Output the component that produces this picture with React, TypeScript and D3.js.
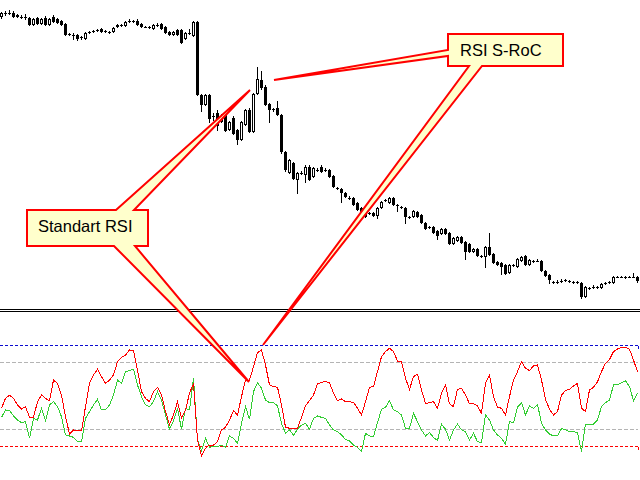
import React from 'react';
import * as d3 from 'd3';

const W = 640;
const H = 480;

// Candle data (price in points)
const openP = [303,307,307,307,305,303,303,302,295,302,296,302,295,303,301,299,296,286,285,285,283,281,288,289,290,291,289,288,288,293,295,294,299,299,299,296,293,293,291,295,296,293,288,285,290,290,281,287,284,298,225,215,225,204,207,198,205,190,202,190,180,195,210,188,226,240,233,216,211,212,205,168,147,157,140,147,145,153,143,150,153,150,150,144,132,131,127,122,122,117,112,110,107,107,104,112,120,117,122,115,113,112,103,103,108,105,97,93,93,89,86,91,87,76,79,83,78,76,68,71,64,63,73,66,58,57,55,47,55,53,59,64,55,59,59,59,49,45,38,38,39,40,39,38,38,37,23,32,33,33,32,37,38,37,43,43,43,43,43,43];
const highP = [308,309,310,309,306,305,306,303,302,303,302,304,302,305,302,300,297,287,287,286,284,288,289,290,291,292,290,289,293,296,296,299,301,300,301,297,294,294,296,297,297,294,289,289,291,291,288,291,299,299,226,226,226,207,210,206,207,199,204,191,199,211,212,227,253,249,235,217,212,219,206,169,161,158,148,149,155,155,153,152,155,152,151,145,133,132,128,124,123,118,113,111,108,108,113,119,121,123,123,116,114,113,104,110,109,106,98,94,94,90,92,92,88,83,84,84,79,77,72,72,65,74,87,67,59,58,56,56,56,62,64,65,61,60,61,60,50,46,39,40,41,41,40,39,39,38,34,33,35,34,37,38,39,44,44,44,44,44,47,44];
const lowP = [301,304,305,302,302,301,300,294,294,295,295,294,294,297,296,294,284,284,280,279,280,280,286,287,288,287,287,286,287,292,293,293,297,297,294,292,292,291,290,293,290,286,284,284,284,276,280,285,283,224,208,214,197,199,189,197,188,189,185,175,179,194,187,187,225,230,214,197,208,204,166,148,146,140,126,145,137,139,142,148,147,148,142,132,130,117,122,120,114,109,106,102,105,103,101,111,118,116,114,108,111,96,101,102,102,96,90,91,86,80,85,85,75,75,78,76,60,67,67,63,62,52,64,56,54,45,45,46,53,52,58,54,54,57,58,48,43,36,36,36,37,38,37,36,36,21,22,30,31,31,31,35,36,36,42,42,41,42,42,37];
const closeP = [307,307,307,303,303,303,302,295,301,296,301,295,301,298,297,295,285,286,285,281,283,287,288,289,290,288,289,288,292,295,295,298,299,299,295,293,293,293,295,295,291,287,285,288,285,277,287,287,298,225,215,225,201,204,194,204,189,198,186,180,198,210,188,226,241,232,215,210,211,205,168,150,160,141,147,147,153,140,152,150,148,150,143,133,132,127,123,122,115,110,107,103,107,104,112,118,120,122,115,115,113,103,103,109,103,97,91,93,87,84,91,86,76,82,83,77,68,68,71,64,64,73,65,57,55,53,46,55,55,61,63,55,60,59,59,49,44,40,38,38,39,40,39,38,38,23,33,32,33,33,36,37,38,43,43,43,43,43,43,39];

// Oscillator series (0..100)
const rsiSRoC = [42.7,48.6,50.4,48.6,44.7,42.3,43.7,37.3,37.3,46.6,50.6,48.6,47.2,59.5,57.5,50.6,37.7,27.4,29.8,29.2,29.2,43.7,57.5,62.5,65.9,61.5,57.5,59.5,62.5,70.4,73.0,74.4,77.4,77.0,65.5,52.6,48.6,46.6,52.6,55.2,50.6,40.7,33.1,38.7,46.6,36.7,41.7,51.6,57.5,23.8,14.3,18.9,20.8,20.8,22.8,29.8,31.4,35.7,41.3,38.7,49.6,59.5,59.5,67.5,75.8,77.4,68.5,56.6,55.6,55.2,44.7,31.4,30.8,30.8,30.8,37.3,44.1,47.2,50.6,57.2,
58.2,58.5,57.9,51.6,47.2,48.2,46.6,46.6,46.2,42.7,38.7,46.6,55.2,55.6,64.5,73.4,76.4,78.4,76.4,70.8,70.4,60.5,54.0,61.5,62.9,53.6,45.6,46.0,46.6,42.7,51.6,56.6,45.3,43.7,54.0,54.6,50.6,45.3,45.3,44.1,39.7,57.5,62.5,49.6,43.3,42.7,38.7,49.6,59.5,64.5,70.4,66.5,65.1,67.9,68.5,59.5,48.0,42.1,38.7,40.7,50.6,53.2,54.0,56.0,57.5,42.7,40.7,53.6,55.2,58.5,64.5,69.5,71.8,76.4,78.0,78.8,79.0,77.8,71.4,64.5];
const rsiStandard = [37.3,41.7,41.3,38.1,35.7,34.1,34.7,24.8,36.7,35.7,42.7,35.3,44.7,46.6,43.7,37.7,26.8,26.2,25.4,22.8,22.8,36.7,40.7,44.7,48.0,41.7,41.7,44.7,50.6,59.5,57.5,64.5,65.1,65.9,56.6,49.6,44.7,43.7,46.6,52.6,47.6,38.7,30.2,35.3,42.7,30.2,42.7,41.7,60.5,23.8,17.5,24.8,19.5,19.9,19.9,20.8,19.5,26.2,24.8,21.8,33.7,43.7,36.1,52.6,57.9,54.6,47.6,46.0,46.0,44.1,33.7,27.8,29.8,26.6,30.2,32.7,33.7,30.2,36.7,38.1,
37.3,36.7,32.7,29.8,28.8,26.8,24.2,23.2,20.8,19.5,16.9,27.8,26.2,25.8,34.1,42.1,43.3,47.2,41.7,40.7,38.7,30.8,30.8,39.7,34.7,29.8,26.2,28.2,25.4,23.4,33.3,30.2,23.8,29.8,33.3,29.8,28.8,23.8,27.8,22.8,22.2,38.7,35.7,29.8,26.8,24.8,21.2,34.7,34.1,43.3,46.0,38.7,44.1,42.7,45.1,33.7,29.8,27.4,26.2,26.2,30.6,29.8,28.8,28.8,28.2,16.9,33.3,33.1,33.3,35.7,43.7,46.0,47.6,56.6,56.6,57.9,59.1,55.6,47.2,51.6];

const levelValues = [80, 70, 30, 20];
const levelColors = ['#0b0bd0', '#b4b4b4', '#b4b4b4', '#ff0000'];
const levelDash = ['3,2', '4,2', '4,2', '3,2'];

const calloutLabels = ['RSI S-RoC', 'Standart RSI'];

export default function App() {
  const n = openP.length;
  const x = d3.scaleLinear().domain([0, n - 1]).range([1.5, 637.5]);
  const py = d3.scaleLinear().domain([0, 320]).range([320, 0]);
  const ry = d3.scaleLinear().domain([0, 100]).range([480, 312]);

  const line = d3
    .line<number>()
    .x((_, i) => x(i))
    .y((d) => ry(d));

  const candles = openP.map((o, i) => {
    const c = closeP[i];
    const xc = x(i);
    const yo = py(o);
    const yc = py(c);
    const yh = py(highP[i]);
    const yl = py(lowP[i]);
    const parts: React.ReactNode[] = [
      <line key="w" x1={xc} x2={xc} y1={yh} y2={yl} stroke="#000" strokeWidth={1} />,
    ];
    if (o === c || (c > o && c - o < 2)) {
      parts.push(
        <line key="b" x1={xc - 1.5} x2={xc + 1.5} y1={yo + 0.5} y2={yo + 0.5} stroke="#000" />
      );
    } else if (c < o) {
      parts.push(<rect key="b" x={xc - 1.5} y={yo} width={3} height={Math.max(1, yc - yo)} fill="#000" />);
    } else {
      parts.push(
        <rect key="b" x={xc - 1} y={yc + 0.5} width={2} height={yo - yc - 1} fill="#fff" stroke="#000" strokeWidth={1} />
      );
    }
    return <g key={i}>{parts}</g>;
  });

  const callout1 = 'M448,34 L563,34 L563,66 L482,66 L263,345 L469,66 L448,66 L448,56 L274,80 L448,50 Z';
  const callout2 = 'M27,210 L116,210 L250,90 L134,210 L148,210 L148,246 L135,246 L249,382 L114,246 L27,246 Z';

  return (
    <svg
      width={W}
      height={H}
      style={{ position: 'absolute', left: 0, top: 0, background: '#fff' }}
      fontFamily="'Liberation Sans', Arial, sans-serif"
    >
      <rect x={0} y={0} width={W} height={H} fill="#fff" />
      <g shapeRendering="crispEdges">{candles}</g>

      <g shapeRendering="crispEdges">
        <line x1={0} x2={W} y1={309.5} y2={309.5} stroke="#000" />
        <line x1={0} x2={W} y1={311.5} y2={311.5} stroke="#000" />
      </g>

      <g shapeRendering="crispEdges">
        {levelValues.map((v, k) => {
          const yy = Math.floor(ry(v)) + 0.5;
          return (
            <g key={v}>
              <line x1={0} x2={638} y1={yy} y2={yy} stroke={levelColors[k]} strokeDasharray={levelDash[k]} />
              {(k === 0 || k === 3) && (
                <line x1={638.5} x2={638.5} y1={yy} y2={yy + 3} stroke={levelColors[k]} />
              )}
            </g>
          );
        })}
      </g>

      <g shapeRendering="crispEdges">
        <path d={line(rsiStandard) || ''} fill="none" stroke="#32cd32" strokeWidth={1} />
        <path d={line(rsiSRoC) || ''} fill="none" stroke="#ff0000" strokeWidth={1} />
      </g>

      <path d={callout1} fill="#ffffcc" stroke="#ff0000" strokeWidth={2} />
      <path d={callout2} fill="#ffffcc" stroke="#ff0000" strokeWidth={2} />
      <text x={460} y={56} fontSize={16.5} fill="#000">{calloutLabels[0]}</text>
      <text x={38} y={232} fontSize={16.5} fill="#000">{calloutLabels[1]}</text>
    </svg>
  );
}
